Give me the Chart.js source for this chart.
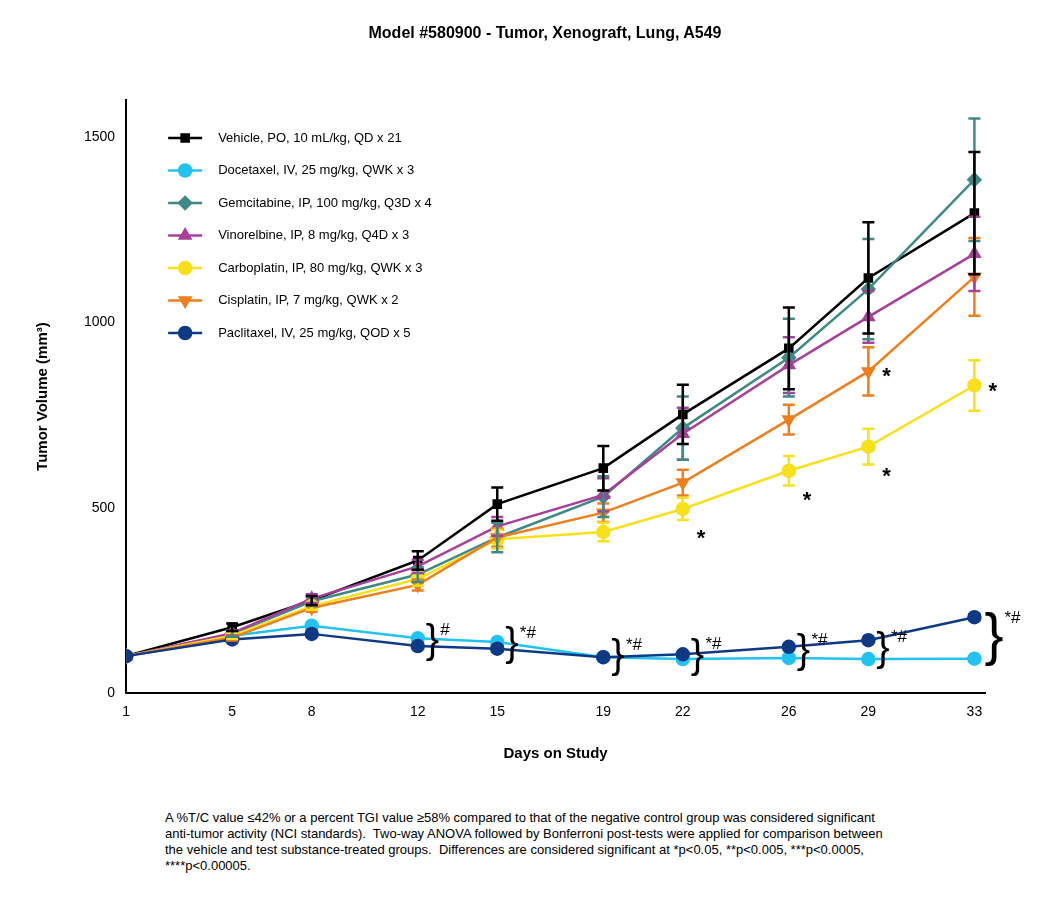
<!DOCTYPE html>
<html><head><meta charset="utf-8">
<script src="https://cdn.jsdelivr.net/npm/chart.js@4/dist/chart.umd.min.js"></script>
<style>
body{margin:0;background:#fff;font-family:Arial,"Liberation Sans",sans-serif;}
#wrap{position:absolute;left:0;top:0;width:1050px;height:800px;}
#title{position:absolute;top:24px;left:0;width:1090px;text-align:center;font-weight:bold;font-size:16px;}
#note{position:absolute;left:165px;top:810px;width:720px;font-size:13px;line-height:16px;}
</style></head><body>
<div id="wrap"><canvas id="c"></canvas></div>
<div id="title">Model #580900 - Tumor, Xenograft, Lung, A549</div>
<div id="note">A %T/C value ≤42% or a percent TGI value ≥58% compared to that of the negative control group was considered significant anti-tumor activity (NCI standards).&nbsp; Two-way ANOVA followed by Bonferroni post-tests were applied for comparison between the vehicle and test substance-treated groups.&nbsp; Differences are considered significant at *p&lt;0.05, **p&lt;0.005, ***p&lt;0.0005, ****p&lt;0.00005.</div>
<script>
const days = [1, 5, 8, 12, 15, 19, 22, 26, 29, 33];
const vehicle = [100, 178, 250, 358, 510, 607, 752, 930, 1120, 1295];
const vehicleErr = [5, 10, 12, 25, 45, 60, 80, 110, 150, 165];
const docetaxel = [100, 155, 182, 148, 138, 97, 92, 95, 92, 93];
const docetaxelErr = [3, 5, 6, 6, 6, 4, 4, 4, 4, 4];
const gemcitabine = [100, 160, 248, 320, 420, 530, 715, 905, 1090, 1385];
const gemcitabineErr = [4, 8, 12, 20, 40, 55, 85, 105, 135, 165];
const vinorelbine = [100, 162, 255, 342, 450, 535, 700, 885, 1015, 1185];
const vinorelbineErr = [4, 8, 12, 18, 25, 45, 70, 75, 70, 100];
const carboplatin = [100, 155, 235, 308, 415, 435, 497, 600, 665, 830];
const carboplatinErr = [4, 8, 10, 18, 25, 25, 30, 40, 48, 68];
const cisplatin = [100, 150, 230, 292, 420, 487, 568, 738, 868, 1123];
const cisplatinErr = [4, 8, 10, 15, 25, 25, 35, 40, 65, 105];
const paclitaxel = [100, 145, 160, 127, 120, 97, 105, 125, 143, 205];
const paclitaxelErr = [3, 4, 5, 5, 5, 4, 4, 5, 6, 8];
const labels = ['Vehicle, PO, 10 mL/kg, QD x 21', 'Docetaxel, IV, 25 mg/kg, QWK x 3', 'Gemcitabine, IP, 100 mg/kg, Q3D x 4',
  'Vinorelbine, IP, 8 mg/kg, Q4D x 3', 'Carboplatin, IP, 80 mg/kg, QWK x 3', 'Cisplatin, IP, 7 mg/kg, QWK x 2', 'Paclitaxel, IV, 25 mg/kg, QOD x 5'];
const colors = ['#000000', '#22C3F0', '#3E8A85', '#A8409B', '#F8E01A', '#EE7F1E', '#0E3A85'];
const markers = ['rect', 'circle', 'rectRot', 'triangle', 'circle', 'triangle', 'circle'];
const rotations = [0, 0, 0, 0, 0, 180, 0];
const series = [vehicle, docetaxel, gemcitabine, vinorelbine, carboplatin, cisplatin, paclitaxel];
const errs = [vehicleErr, docetaxelErr, gemcitabineErr, vinorelbineErr, carboplatinErr, cisplatinErr, paclitaxelErr];
const starDays = [[29, cisplatin, 0], [22, carboplatin, -1], [26, carboplatin, -1], [29, carboplatin, -1], [33, carboplatin, 0]];
const braceDays = [12, 15, 19, 22, 26, 29, 33];
const braceTags = ['#', '*#', '*#', '*#', '*#', '*#', '*#'];

const order = [6, 5, 4, 3, 2, 1, 0];
const datasets = order.map(i => ({
  label: labels[i],
  data: days.map((d, k) => ({ x: d, y: series[i][k], e: errs[i][k] })),
  borderColor: colors[i], backgroundColor: colors[i], borderWidth: 2.5,
  pointStyle: markers[i], pointRotation: rotations[i], pointRadius: markers[i] === 'rect' ? 5 : 6,
  errColor: colors[i], legendIdx: i,
}));

const extras = {
  id: 'extras',
  afterDatasetsDraw(chart) {
    const { ctx, scales: { x, y } } = chart;
    ctx.save();
    chart.data.datasets.forEach(ds => {
      ctx.strokeStyle = ds.errColor; ctx.lineWidth = 2.5;
      ds.data.forEach(p => {
        if (p.e < 8) return;
        const px = x.getPixelForValue(p.x), t = y.getPixelForValue(p.y + p.e), b = y.getPixelForValue(p.y - p.e);
        ctx.beginPath();
        ctx.moveTo(px, t); ctx.lineTo(px, b);
        ctx.moveTo(px - 6, t); ctx.lineTo(px + 6, t);
        ctx.moveTo(px - 6, b); ctx.lineTo(px + 6, b);
        ctx.stroke();
      });
    });
    ctx.fillStyle = '#000'; ctx.font = 'bold 22px Arial'; ctx.textAlign = 'left'; ctx.textBaseline = 'middle';
    starDays.forEach(([d, s, dir]) => {
      const k = days.indexOf(d);
      const px = x.getPixelForValue(d) + 14;
      const py = y.getPixelForValue(s[k]) + (dir < 0 ? 30 : 6);
      ctx.fillText('*', px, py);
    });
    braceDays.forEach((d, j) => {
      const k = days.indexOf(d);
      const mid = y.getPixelForValue((docetaxel[k] + paclitaxel[k]) / 2);
      const h = Math.max(36, Math.abs(y.getPixelForValue(docetaxel[k]) - y.getPixelForValue(paclitaxel[k])) + 10);
      const px = x.getPixelForValue(d) + (j === braceDays.length - 1 ? 10 : 8);
      ctx.font = Math.round(h * 1.1) + 'px Arial';
      ctx.fillText('}', px, mid);
      ctx.font = '17px Arial';
      ctx.fillText(braceTags[j], px + h * 0.35 + 2, mid - h / 2 + 6);
    });
    const lx = x.left + 42, ly0 = y.top + 38;
    ctx.font = '13px Arial';
    for (let i = 0; i < 7; i++) {
      const ly = ly0 + i * 32.5;
      ctx.strokeStyle = colors[i]; ctx.lineWidth = 2.5;
      ctx.beginPath(); ctx.moveTo(lx, ly); ctx.lineTo(lx + 34, ly); ctx.stroke();
      ctx.fillStyle = colors[i]; ctx.strokeStyle = colors[i];
      Chart.helpers.drawPoint(ctx, { pointStyle: markers[i], radius: markers[i] === 'rect' ? 5 : 6, rotation: rotations[i], borderWidth: 1 }, lx + 17, ly);
      ctx.fillStyle = '#000';
      ctx.fillText(labels[i], lx + 50, ly);
    }
    ctx.restore();
  }
};

new Chart(document.getElementById('c'), {
  type: 'line',
  data: { datasets },
  plugins: [extras],
  options: {
    responsive: true, maintainAspectRatio: false, animation: false,
    layout: { padding: { left: 30, right: 65, top: 100, bottom: 33 } },
    plugins: { legend: { display: false }, tooltip: { enabled: false } },
    scales: {
      x: {
        type: 'linear', min: 1, max: 33.4,
        afterBuildTicks(ax) { ax.ticks = days.map(v => ({ value: v })); },
        grid: { display: false, drawTicks: true, tickLength: 7, tickColor: '#000', tickWidth: 2 },
        border: { color: '#000', width: 2 },
        ticks: { color: '#000', font: { size: 14, family: 'Arial' }, padding: 4, callback: v => String(v) },
        title: { display: true, text: 'Days on Study', color: '#000', font: { size: 15, weight: 'bold', family: 'Arial' }, padding: { top: 20 } }
      },
      y: {
        min: 0, max: 1600,
        afterBuildTicks(ax) { ax.ticks = [0, 500, 1000, 1500].map(v => ({ value: v })); },
        grid: { display: false, drawTicks: true, tickLength: 7, tickColor: '#000', tickWidth: 2 },
        border: { color: '#000', width: 2 },
        ticks: { color: '#000', font: { size: 14, family: 'Arial' }, padding: 4, callback: v => String(v) },
        title: { display: true, text: 'Tumor Volume (mm³)', color: '#000', font: { size: 15, weight: 'bold', family: 'Arial' }, padding: { bottom: 28 } }
      }
    }
  }
});
</script>
</body></html>
